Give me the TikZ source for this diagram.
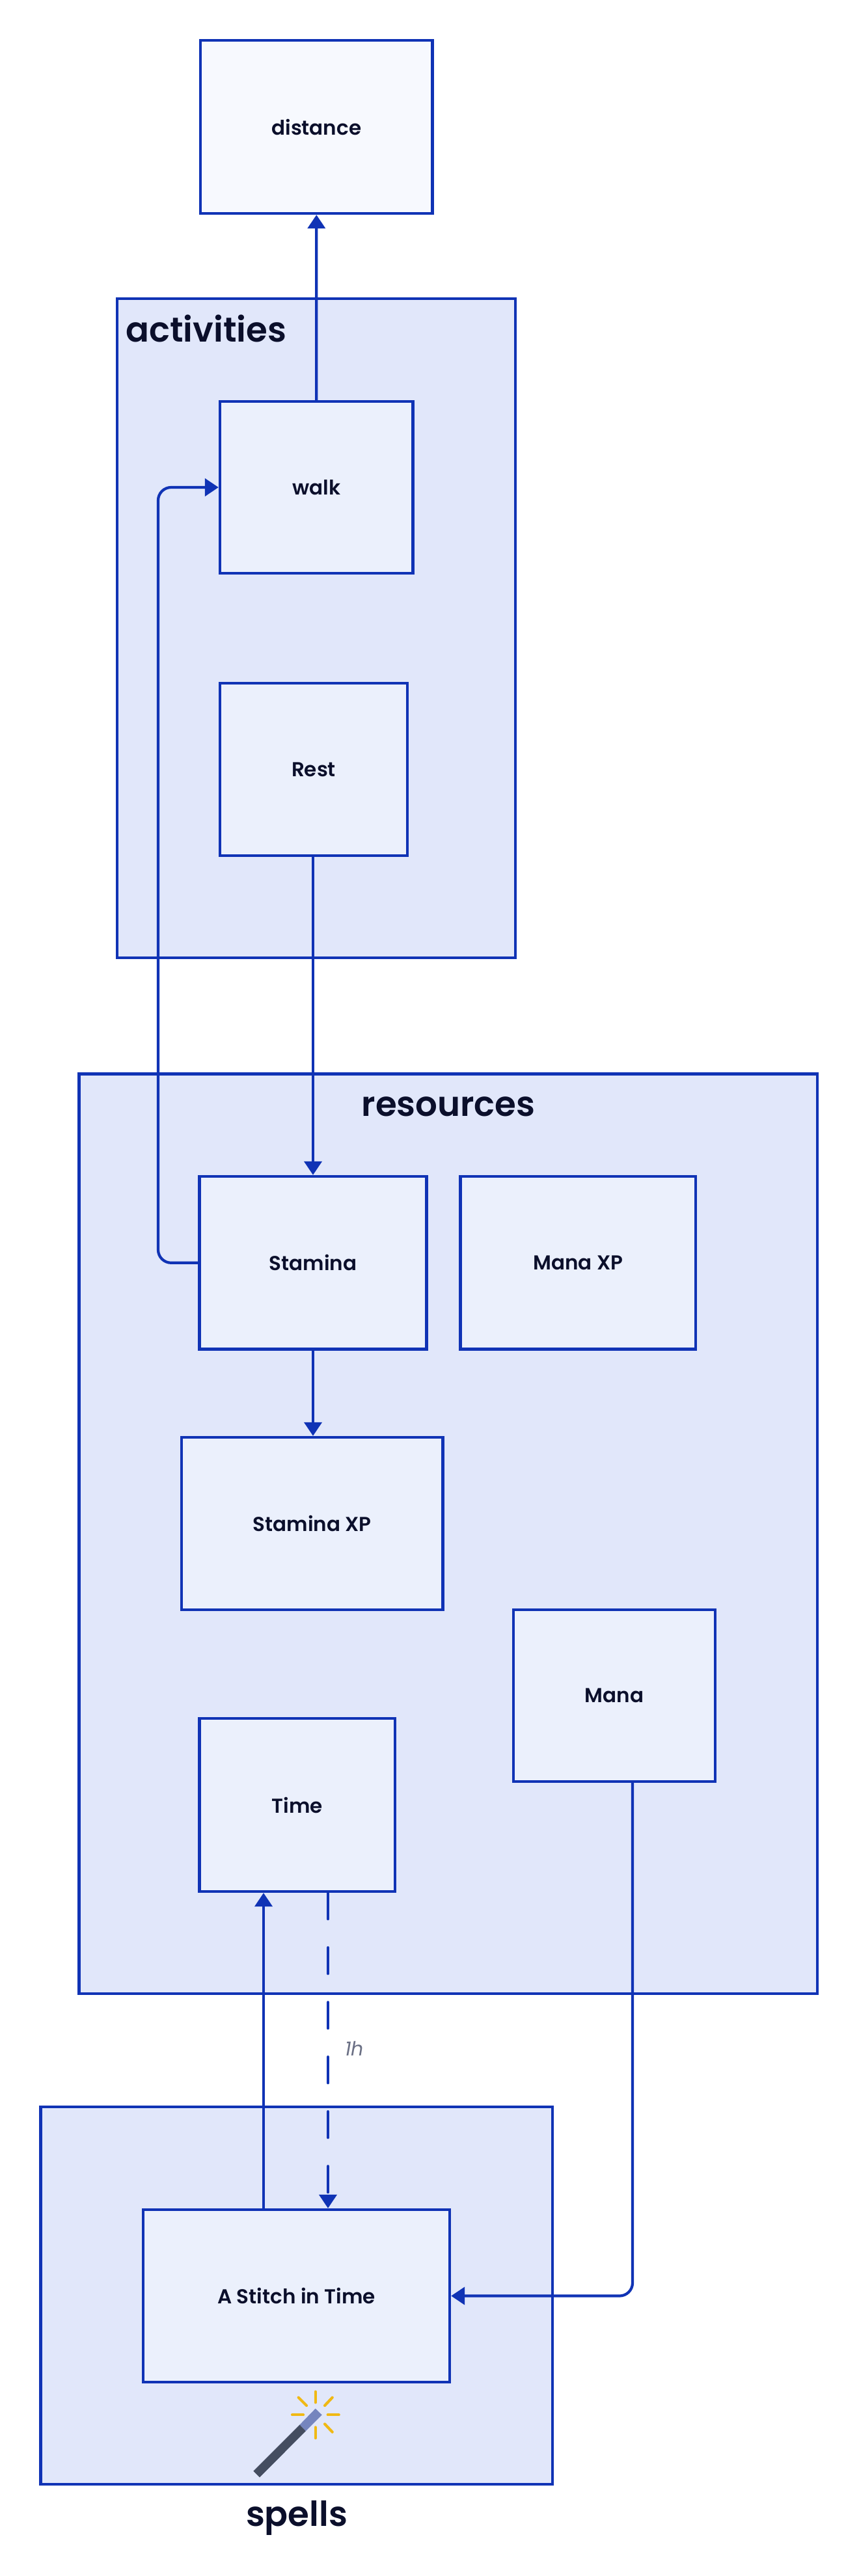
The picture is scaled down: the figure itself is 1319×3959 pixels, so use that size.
\documentclass[tikz,border=0pt]{standalone}
\usepackage{fontspec}
\setmainfont{Poppins}[UprightFont=* Medium,BoldFont=* SemiBold,ItalicFont=* Italic]
\usetikzlibrary{arrows.meta}
\definecolor{strokeblue}{HTML}{1033B5}
\definecolor{groupfill}{HTML}{E1E7FA}
\definecolor{nodefill}{HTML}{EBF0FC}
\definecolor{topfill}{HTML}{F7F9FE}
\definecolor{inkdark}{HTML}{0B0F2B}
\definecolor{labelgray}{HTML}{6B7085}
\definecolor{wanddark}{HTML}{444D60}
\definecolor{wandtip}{HTML}{7585BE}
\definecolor{sparkcol}{HTML}{F0B914}
\tikzset{
 x=0.5pt,y=-0.5pt,
 groupbox/.style={draw=strokeblue,fill=groupfill,line width=2.2pt,rectangle,inner sep=0pt,outer sep=1.1pt},
 itembox/.style={draw=strokeblue,fill=nodefill,line width=2.2pt,rectangle,inner sep=0pt,outer sep=1.1pt,text=inkdark,font=\bfseries\fontsize{15.5}{18}\selectfont},
 toptitle/.style={text=inkdark,inner sep=0pt,font=\bfseries\fontsize{26.5}{32}\selectfont},
 edge/.style={draw=strokeblue,line width=2.1pt,-{Triangle[length=10.5pt,width=13.5pt]}},
 spark/.style={draw=sparkcol,line width=2.1pt,line cap=round},
}
\begin{document}
\begin{tikzpicture}
\useasboundingbox (0,0) rectangle (1319,3959);
\fill[white] (0,0) rectangle (1319,3959);
% groups
\node[groupbox,minimum width=306pt,minimum height=506.5pt] (activities) at (486,965.5) {};
\node[groupbox,minimum width=567.3pt,minimum height=706.7pt] (resources) at (688.7,2357.2) {};
\node[groupbox,minimum width=393.2pt,minimum height=290pt] (spells) at (455.7,3528) {};
\node[toptitle,anchor=west] (activitiesT) at (193,505) {activities};
\node[toptitle] (resourcesT) at (689,1701) {resources};
\node[toptitle] (spellsT) at (456,3870) {spells};
% items
\node[itembox,fill=topfill,minimum width=178.3pt,minimum height=133pt] (distance) at (486.3,195) {distance};
\node[itembox,minimum width=148.2pt,minimum height=132pt] (walk) at (486.2,749) {walk};
\node[itembox,minimum width=144pt,minimum height=132.5pt] (rest) at (482,1182.5) {Rest};
\node[itembox,minimum width=174.5pt,minimum height=132.8pt] (stamina) at (481,1940.8) {Stamina};
\node[itembox,minimum width=180.7pt,minimum height=132.8pt] (manaxp) at (888.2,1940.8) {Mana XP};
\node[itembox,minimum width=200.8pt,minimum height=132.5pt] (staminaxp) at (479.8,2341.5) {Stamina XP};
\node[itembox,minimum width=155pt,minimum height=132pt] (mana) at (944,2606) {Mana};
\node[itembox,minimum width=150.2pt,minimum height=133pt] (time) at (456.8,2774) {Time};
\node[itembox,minimum width=235.5pt,minimum height=132.5pt] (stitch) at (455.5,3528.5) {A Stitch in Time};
% free routing columns
\coordinate (fbx) at (243,0);
\coordinate (upx) at (405,0);
\coordinate (dnx) at (504,0);
\coordinate (mnx) at (972,0);
% connectors
\draw[edge] (walk.north) -- (distance.south);
\draw[edge] (rest.south -| stamina.north) -- (stamina.north);
\draw[edge] (stamina.south) -- (staminaxp.north -| stamina.south);
\draw[edge,rounded corners=10pt] (stamina.west) -- (stamina.west -| fbx) -- (walk.west -| fbx) -- (walk.west);
\draw[edge] (stitch.north -| upx) -- (time.south -| upx);
\draw[edge,line cap=round,dash pattern=on 20pt off 22pt] (time.south -| dnx) -- (stitch.north -| dnx);
\draw[edge,rounded corners=10pt] (mana.south -| mnx) -- (stitch.east -| mnx) -- (stitch.east);
\node[text=labelgray,inner sep=0pt,font=\itshape\fontsize{15}{18}\selectfont] (lbl) at (544.5,3148) {1h};
% wand
\begin{scope}[shift={(340,3650)},x=0.1667pt,y=-0.1667pt]
 \fill[wanddark] (148,443) -- (177,472) -- (390,258) -- (362,229) -- cycle;
 \fill[wandtip] (362,229) -- (390,258) -- (464,184) -- (434,155) -- cycle;
 \draw[spark] (434,77) -- (434,127);
 \draw[spark] (434,241) -- (434,291);
 \draw[spark] (327,184) -- (378,184);
 \draw[spark] (491,184) -- (542,184);
 \draw[spark] (356,104) -- (393,141);
 \draw[spark] (512,104) -- (477,141);
 \draw[spark] (477,226) -- (512,263);
\end{scope}
\end{tikzpicture}
\end{document}
